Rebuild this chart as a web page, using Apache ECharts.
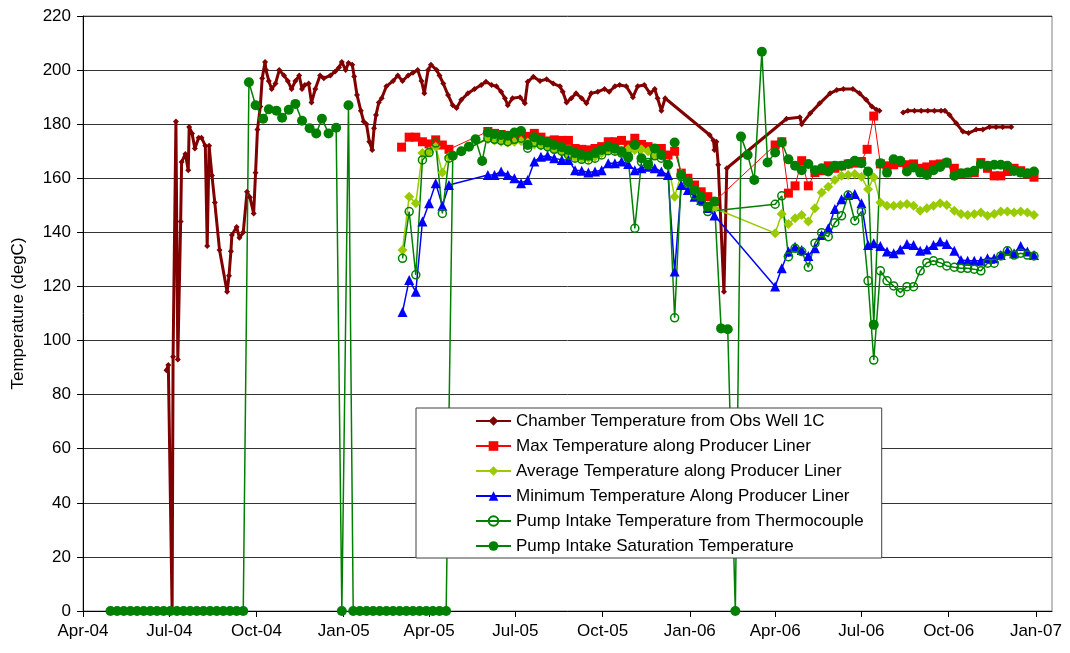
<!DOCTYPE html>
<html><head><meta charset="utf-8">
<script src="https://cdn.jsdelivr.net/npm/echarts@6/dist/echarts.min.js"></script>
<style>html,body{margin:0;padding:0;background:#fff}#c{width:1070px;height:653px}</style>
</head><body><div id="c"></div>
<script>
// Dates are Excel serial day numbers
const xTickSerials = [38078,38169,38261,38353,38443,38534,38626,38718,38808,38899,38991,39083];
const xTickLabels = ['Apr-04','Jul-04','Oct-04','Jan-05','Apr-05','Jul-05','Oct-05','Jan-06','Apr-06','Jul-06','Oct-06','Jan-07'];
const xMinSerial = 38078, xMaxSerial = 39100;
const yTicks = [0,20,40,60,80,100,120,140,160,180,200,220];

const seriesNames = [
  'Chamber Temperature from Obs Well 1C',
  'Max Temperature along Producer Liner',
  'Average Temperature along Producer Liner',
  'Minimum Temperature Along Producer Liner',
  'Pump Intake Temperature from Thermocouple',
  'Pump Intake Saturation Temperature'
];

const chamber = [[38166,89],[38168,91],[38172,0],[38173,94],[38176,181],[38178,93],[38181,144],[38182,166],[38186,169],[38189,163],[38190,179],[38193,176.6],[38196,171],[38200,175],[38203,175],[38207,172],[38209,135],[38211,172],[38214,161],[38217,151],[38222,133.5],[38230,118],[38232,124],[38234,133],[38235,139],[38240,142],[38243,138],[38247,140],[38251,155],[38254,153],[38258,147],[38260,162],[38262,178],[38265,186.5],[38267,197],[38270,203],[38271,200],[38274,196],[38277,193],[38281,195],[38285,200],[38290,198],[38294,196],[38298,193],[38302,196],[38306,198],[38309,193],[38312,194.5],[38316,195],[38319,188],[38323,193],[38328,198],[38332,197],[38339,198],[38344,199.5],[38348,201],[38351,203],[38355,200],[38358,202.6],[38362,202],[38364,197.6],[38367,190.8],[38371,185],[38374,181],[38377,180],[38380,173.5],[38383,170.5],[38385,178.5],[38387,183.4],[38390,188],[38393,189.6],[38398,194],[38405,196],[38410,198],[38415,196],[38421,198],[38426,199],[38431,200],[38435,196],[38438,191.4],[38442,200],[38445,202],[38451,200],[38454,198],[38458,195],[38463,190.8],[38468,187],[38472,186],[38477,189],[38484,191.4],[38491,193],[38498,194.5],[38503,195.7],[38509,194.5],[38514,194],[38519,192],[38523,189.6],[38526,187],[38531,189.6],[38539,190],[38544,187.7],[38547,195.7],[38553,197.5],[38560,196],[38567,196.6],[38574,195],[38581,194],[38584,192],[38588,188],[38593,189.6],[38598,191.4],[38604,189.6],[38609,187.7],[38614,191.4],[38621,192],[38628,193],[38633,192],[38639,194],[38644,194.5],[38651,194],[38658,190],[38663,194],[38670,194.5],[38676,191.4],[38681,193],[38684,189.6],[38688,185],[38692,189.6],[38739,176],[38743,174],[38744,170.5],[38746,173.5],[38748,165],[38754,118],[38757,163.7],[38820,182],[38834,182.6],[38836,180],[38845,184],[38855,187.7],[38866,191.4],[38873,192.6],[38880,193],[38890,193],[38897,191.4],[38904,189],[38910,186.5],[38915,185.3],[38918,185],[38930,null],[38943,184.3],[38948,185],[38955,185],[38962,185],[38969,185],[38976,185],[38983,185],[38987,185],[38992,183.4],[38999,180.3],[39006,177.3],[39012,176.7],[39020,178],[39027,178],[39034,179],[39041,179],[39048,179],[39057,179]];

const maxLiner = [[38414,171.5],[38422,175.2],[38429,175.2],[38436,173.5],[38443,172.7],[38450,174.2],[38457,172.3],[38464,170.7],[38505,177.3],[38512,176.6],[38519,176.2],[38526,175.7],[38533,175.7],[38540,176],[38547,175.5],[38554,176.6],[38561,175.2],[38568,173.8],[38575,174.2],[38583,174],[38590,174],[38597,171],[38604,170.7],[38611,170.5],[38618,171],[38625,171.7],[38632,173.5],[38639,173.5],[38646,174],[38653,172.3],[38660,174.8],[38667,172.5],[38674,171.7],[38681,171],[38688,171],[38695,168.6],[38702,170],[38709,161.9],[38716,160],[38723,157.5],[38730,155],[38737,153.2],[38744,151.4],[38808,172.3],[38815,173.5],[38822,154.5],[38829,157.2],[38836,166.5],[38843,157.2],[38850,162.1],[38857,162.8],[38864,164.6],[38871,163.7],[38878,164.6],[38885,165.3],[38892,165.6],[38899,166.2],[38905,170.7],[38912,183],[38919,165.3],[38926,164.6],[38933,165],[38940,165.8],[38947,165],[38954,165.3],[38961,163.7],[38968,164.2],[38975,165],[38982,165.3],[38989,165.6],[38997,163.7],[39004,161.6],[39011,161.9],[39018,162.1],[39025,165.8],[39032,163.7],[39039,160.9],[39046,160.9],[39053,162.5],[39060,163.7],[39067,162.8],[39074,161.6],[39081,160.4]];

const avgLiner = [[38415,133.5],[38422,153.2],[38429,150.8],[38436,169.3],[38443,169.9],[38450,171.7],[38457,162.1],[38464,168],[38505,174.4],[38512,174],[38519,173.5],[38526,173.2],[38533,173.5],[38540,173.8],[38547,173.2],[38554,172.5],[38561,172],[38568,171.2],[38575,170.5],[38583,169.5],[38590,168.3],[38597,167.8],[38604,167.4],[38611,167.4],[38618,168],[38625,169.3],[38632,170.5],[38639,170.2],[38646,170],[38653,170.7],[38660,170.5],[38667,170.7],[38674,170],[38681,168.6],[38688,168.3],[38695,165],[38702,153.2],[38709,161.6],[38716,158.8],[38723,155.7],[38730,152.6],[38737,149.6],[38744,148.9],[38808,139.7],[38815,146.8],[38822,143.1],[38829,145.2],[38836,146.4],[38843,144],[38850,148.9],[38857,154.7],[38864,156.9],[38871,159.4],[38878,160.9],[38885,161.2],[38892,161.6],[38899,160.6],[38906,155.9],[38912,160.4],[38919,151],[38926,149.8],[38933,149.8],[38940,150.1],[38947,150.5],[38954,149.8],[38961,148],[38968,148.9],[38975,149.8],[38982,150.8],[38989,150.1],[38997,148],[39004,146.8],[39011,146.4],[39018,146.8],[39025,147.3],[39032,146.1],[39039,146.8],[39046,147.7],[39053,147.7],[39060,147.3],[39067,147.7],[39074,147.3],[39081,146.4]];

const minLiner = [[38415,110.6],[38422,122.4],[38429,118],[38436,144],[38443,150.8],[38450,158.2],[38457,149.8],[38464,157.5],[38505,161.2],[38512,161.2],[38519,162.5],[38526,161.2],[38533,160],[38540,158.2],[38547,159.4],[38554,166.2],[38561,168],[38568,168.3],[38575,167.4],[38583,166.8],[38590,166.8],[38597,163],[38604,162.8],[38611,162.1],[38618,162.5],[38625,163],[38632,165.6],[38639,165.6],[38646,166.2],[38653,165.3],[38660,163],[38667,163.7],[38674,164.3],[38681,163.7],[38688,162.5],[38695,161.2],[38702,125.5],[38709,157.5],[38716,155.7],[38723,153.2],[38730,152],[38737,149],[38744,146.2],[38808,120],[38815,126.7],[38822,132.9],[38829,134.7],[38836,133.5],[38843,131.3],[38850,134.1],[38857,139],[38864,141.5],[38871,148.6],[38878,152.2],[38885,153.8],[38892,154.2],[38899,150.8],[38906,135.3],[38912,136],[38919,135],[38926,132.9],[38933,132.3],[38940,133.7],[38947,135.7],[38954,135.3],[38961,133.2],[38968,133.7],[38975,135.3],[38982,136.6],[38989,135.7],[38997,133.2],[39004,129.8],[39011,129.5],[39018,129.5],[39025,129.5],[39032,130.4],[39039,130.4],[39046,131.6],[39053,133.2],[39060,132.3],[39067,135],[39074,132.9],[39081,131.6]];

const pumpThermo = [[38415,130.4],[38422,147.7],[38429,124.3],[38436,166.8],[38443,169.5],[38450,173],[38457,147],[38464,167.4],[38505,174.8],[38512,174.4],[38519,174],[38526,173.5],[38533,174.4],[38540,174.8],[38547,171.1],[38554,173.2],[38561,172.3],[38568,171.7],[38575,170.7],[38583,170],[38590,168.6],[38597,167.4],[38604,167],[38611,166.8],[38618,167.4],[38625,168.6],[38632,170.2],[38639,170],[38646,169.3],[38653,167.4],[38660,141.5],[38667,166.1],[38674,165.8],[38681,168.3],[38688,167.4],[38695,165],[38702,108.4],[38709,160.6],[38716,158.2],[38723,153.8],[38730,151.4],[38737,147.7],[38808,150.4],[38815,153.5],[38822,131],[38829,134.1],[38836,132.9],[38843,127.1],[38850,136],[38857,139.9],[38864,138.4],[38871,143.6],[38878,146.1],[38885,153.8],[38892,144.3],[38899,147.7],[38906,122.1],[38912,92.8],[38919,125.8],[38926,122.1],[38933,120.2],[38940,117.7],[38947,119.9],[38954,119.9],[38961,125.8],[38968,128.8],[38975,129.5],[38982,128.8],[38989,127.6],[38997,127.1],[39004,126.7],[39011,126.7],[39018,126.4],[39025,125.8],[39032,128.6],[39039,128.6],[39046,131.3],[39053,133.2],[39060,131.6],[39067,132.3],[39074,131.6],[39081,131.3]];

const pumpSat = [[38107,0],[38114,0],[38121,0],[38128,0],[38135,0],[38142,0],[38149,0],[38156,0],[38163,0],[38170,0],[38177,0],[38184,0],[38191,0],[38198,0],[38205,0],[38212,0],[38219,0],[38226,0],[38233,0],[38240,0],[38247,0],[38253,195.5],[38260,187],[38268,182],[38274,185.5],[38282,185],[38288,182.4],[38295,185.3],[38302,187.5],[38309,181.3],[38317,178.5],[38324,176.6],[38330,182],[38337,176.6],[38345,178.7],[38351,0],[38358,187],[38363,0],[38370,0],[38377,0],[38384,0],[38391,0],[38398,0],[38405,0],[38412,0],[38419,0],[38426,0],[38433,0],[38440,0],[38447,0],[38454,0],[38461,0],[38468,168.3],[38477,170],[38485,171.7],[38492,174.4],[38499,166.4],[38505,176.9],[38512,176.4],[38519,176],[38526,175.7],[38533,176.9],[38540,177.5],[38547,172.3],[38554,175.2],[38561,174],[38568,173.2],[38575,172.3],[38583,171.5],[38590,170.5],[38597,169.3],[38604,168.6],[38611,168.3],[38618,169.3],[38625,170.5],[38632,171.7],[38639,171],[38646,170],[38653,168],[38660,172.3],[38667,167.4],[38674,165],[38681,171],[38688,168.6],[38695,165],[38702,173.2],[38709,161.2],[38716,158.8],[38723,155.7],[38730,153.2],[38737,149.5],[38744,151.4],[38751,104.5],[38758,104.2],[38766,0],[38772,175.4],[38779,168.6],[38786,159.4],[38794,206.8],[38800,165.8],[38808,169.5],[38815,173.2],[38822,167],[38829,164.6],[38836,163],[38843,165.3],[38850,163],[38857,163.7],[38864,162.5],[38871,164.6],[38878,164.6],[38885,165.3],[38892,166.5],[38899,165.6],[38906,162.5],[38912,105.8],[38919,165.6],[38926,162.1],[38933,167],[38940,166.5],[38947,162.5],[38954,164],[38961,162.1],[38968,161.2],[38975,163],[38982,164.2],[38989,165.8],[38997,160.9],[39004,161.9],[39011,162.1],[39018,162.8],[39025,165.3],[39032,164.6],[39039,165],[39046,165],[39053,164.6],[39060,162.7],[39067,162.1],[39074,161.9],[39081,162.5]];

const toMs = s => (s - 25569) * 86400000;
const conv = arr => arr.map(p => [toMs(p[0]), p[1]]);
const FONT = 'Liberation Sans, Arial, sans-serif';

const chart = echarts.init(document.getElementById('c'), null, {renderer: 'canvas'});
const tickMs = xTickSerials.map(toMs);

function mk(name, data, color, symbol, size, lw, extra) {
  return Object.assign({
    name, type: 'line', data: conv(data), connectNulls: false,
    symbol, symbolSize: size, showSymbol: true, showAllSymbol: true,
    lineStyle: {color, width: lw},
    itemStyle: {color},
    emphasis: {disabled: true},
    animation: false
  }, extra || {});
}

chart.setOption({
  animation: false,
  backgroundColor: '#fff',
  grid: {left: 83, right: 18, top: 16, bottom: 42, show: true, borderColor: '#808080', borderWidth: 1, backgroundColor: 'transparent'},
  xAxis: {
    type: 'value', min: toMs(xMinSerial), max: toMs(xMaxSerial), scale: true,
    axisLine: {show: true, lineStyle: {color: '#000', width: 1}},
    axisTick: {show: true, length: 6, lineStyle: {color: '#000'}, customValues: tickMs},
    axisLabel: {
      customValues: tickMs, color: '#000', fontFamily: FONT, fontSize: 17, margin: 12,
      formatter: v => { const i = tickMs.indexOf(v); return i >= 0 ? xTickLabels[i] : ''; }
    },
    splitLine: {show: false}
  },
  yAxis: {
    type: 'value', min: yTicks[0], max: yTicks[yTicks.length - 1], interval: 20,
    name: 'Temperature (degC)', nameLocation: 'middle', nameGap: 56,
    nameTextStyle: {color: '#000', fontFamily: FONT, fontSize: 17},
    axisLine: {show: true, lineStyle: {color: '#000', width: 1}},
    axisTick: {show: true, length: 6, lineStyle: {color: '#000'}},
    axisLabel: {color: '#000', fontFamily: FONT, fontSize: 17, margin: 12},
    splitLine: {show: true, lineStyle: {color: '#333', width: 1}}
  },
  legend: {
    orient: 'vertical', left: 416, top: 408,
    itemWidth: 35, itemHeight: 12, itemGap: 7,
    padding: [4, 18, 3, 59],
    backgroundColor: '#fff', borderColor: '#404040', borderWidth: 1,
    textStyle: {fontFamily: FONT, fontSize: 17, color: '#000', lineHeight: 18},
    data: seriesNames
  },
  series: [
    mk(seriesNames[0], chamber, '#800000', 'diamond', 6, 3),
    mk(seriesNames[1], maxLiner, '#FF0000', 'rect', 9, 1),
    mk(seriesNames[2], avgLiner, '#99CC00', 'diamond', 10, 1.5),
    mk(seriesNames[3], minLiner, '#0000FF', 'triangle', 10, 1.5),
    mk(seriesNames[4], pumpThermo, '#008000', 'circle', 8, 1.5, {
      itemStyle: {color: 'rgba(255,255,255,0)', borderColor: '#008000', borderWidth: 1.5}
    }),
    mk(seriesNames[5], pumpSat, '#008000', 'circle', 10, 1.5)
  ]
});
</script></body></html>
